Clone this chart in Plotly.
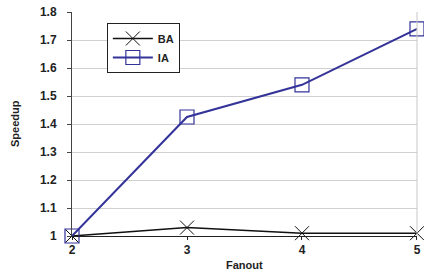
import plotly.graph_objects as go

fanout = [2, 3, 4, 5]
ba = [1.0, 1.03, 1.01, 1.01]
ia = [1.0, 1.425, 1.54, 1.74]
y_ticks = [1, 1.1, 1.2, 1.3, 1.4, 1.5, 1.6, 1.7, 1.8]
y_tick_labels = ["1", "1.1", "1.2", "1.3", "1.4", "1.5", "1.6", "1.7", "1.8"]

FONT = "Liberation Sans, Arial, sans-serif"

fig = go.Figure()
fig.add_trace(go.Scatter(x=fanout, y=ba, name="BA", mode="lines+markers",
                         line=dict(color="#111111", width=1.5),
                         marker=dict(symbol="x-thin-open", size=14, color="#111111",
                                     line=dict(width=1, color="#111111")),
                         cliponaxis=False))
fig.add_trace(go.Scatter(x=fanout, y=ia, name="IA", mode="lines+markers",
                         line=dict(color="#333399", width=2),
                         marker=dict(symbol="square-open", size=14, color="#333399",
                                     line=dict(width=1.2, color="#333399")),
                         cliponaxis=False))

fig.update_layout(
    width=424, height=279,
    margin=dict(l=72, r=7, t=12, b=43, autoexpand=False),
    paper_bgcolor="white", plot_bgcolor="white",
    font=dict(family=FONT, size=11, color="#222222"),
    showlegend=True,
    legend=dict(x=0.101, y=0.951, xanchor="left", yanchor="top",
                bordercolor="#222222", borderwidth=1, bgcolor="white",
                font=dict(size=11, family=FONT, weight="bold"),
                itemwidth=40, tracegroupgap=0),
    xaxis=dict(range=[2, 5.0001], tickvals=fanout, ticktext=[str(v) for v in fanout],
               showgrid=False, zeroline=False, showline=True, linecolor="#222222",
               ticks="outside", ticklen=3, tickcolor="#222222",
               tickfont=dict(size=12, weight="bold"),
               ticklabeloverflow="allow", automargin=False),
    yaxis=dict(range=[1, 1.8], tickvals=y_ticks, ticktext=y_tick_labels,
               showgrid=True, gridcolor="#d0d0d0", gridwidth=1, zeroline=False,
               showline=True, linecolor="#444444",
               ticks="outside", ticklen=4, tickcolor="#444444",
               tickfont=dict(size=12, weight="bold"), ticklabelstandoff=8,
               automargin=False),
    annotations=[
        dict(text="<b>Fanout</b>", xref="paper", yref="paper", x=0.5, y=0,
             yshift=-29, xanchor="center", yanchor="middle", showarrow=False,
             font=dict(size=11, family=FONT, color="#222222")),
        dict(text="<b>Speedup</b>", xref="paper", yref="paper", x=0, xshift=-57,
             y=0.5, xanchor="center", yanchor="middle", showarrow=False,
             textangle=-90, font=dict(size=11, family=FONT, color="#222222")),
    ],
)
fig.add_shape(type="line", xref="paper", yref="paper", x0=1, x1=1, y0=0, y1=1,
              line=dict(color="#c8c8c8", width=1))
fig.write_html("out.html", config={"displayModeBar": False},
               post_script="document.body.style.margin='0px';document.body.style.overflow='hidden';")
